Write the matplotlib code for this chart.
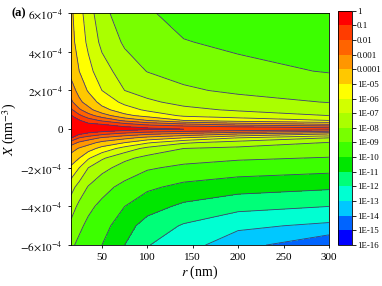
import numpy as np
import matplotlib
matplotlib.use("Agg")
import matplotlib.pyplot as plt
from matplotlib.colors import ListedColormap, BoundaryNorm

plt.rcParams['font.family'] = ['Liberation Serif', 'DejaVu Serif']
plt.rcParams['mathtext.fontset'] = 'stix'

# r (nm) grid and X (1e-4 nm^-3) grid
r_nm = [16, 25, 35, 50, 75, 100, 140, 200, 300]
x_e4 = [-6, -5, -4, -3, -2, -1.5, -1, -0.7, -0.45, -0.25, -0.1, 0,
        0.1, 0.25, 0.45, 0.7, 1.0, 1.4, 2, 3, 4.5, 6]

# log10 of the quantity, one row per X value (rows follow x_e4)
log_f = [
    [-8.85, -9.2, -9.5, -10.0, -11.0, -11.95, -12.6, -13.6, -14.9],
    [-8.24, -8.82, -9.21, -9.62, -10.6, -11.4, -12.1, -12.8, -13.2],
    [-7.54, -8.24, -8.79, -9.23, -10.0, -10.6, -11.2, -11.7, -12.0],
    [-6.63, -7.4, -8.07, -8.67, -9.29, -9.82, -10.27, -10.6, -10.85],
    [-5.17, -6.0, -7.0, -7.69, -8.4, -8.88, -9.22, -9.47, -9.67],
    [-4.47, -5.0, -5.88, -6.86, -7.78, -8.29, -8.63, -8.87, -9.06],
    [-3.57, -4.09, -4.57, -5.33, -6.4, -7.29, -8.0, -8.2, -8.42],
    [-2.5, -3.17, -3.6, -4.29, -5.0, -5.88, -6.86, -7.44, -8.04],
    [-0.96, -2.0, -2.5, -3.1, -3.71, -4.33, -5.0, -6.0, -7.0],
    [-0.58, -0.87, -1.23, -1.77, -2.38, -2.82, -3.27, -4.0, -5.0],
    [-0.29, -0.47, -0.62, -0.8, -1.17, -1.54, -1.83, -2.22, -2.83],
    [-0.1, -0.2, -0.3, -0.4, -0.6, -0.8, -1.0, -1.2, -1.5],
    [-0.22, -0.36, -0.5, -0.64, -0.87, -1.14, -1.46, -1.82, -2.22],
    [-0.4, -0.6, -0.8, -1.0, -1.67, -2.25, -2.8, -3.43, -4.0],
    [-0.64, -0.92, -1.5, -2.17, -3.23, -4.0, -5.0, -5.47, -6.0],
    [-0.94, -1.8, -2.6, -3.5, -4.75, -5.33, -6.16, -6.46, -7.0],
    [-1.83, -2.83, -3.67, -4.67, -5.56, -6.17, -6.76, -7.13, -7.46],
    [-2.78, -3.78, -4.43, -5.33, -6.25, -6.83, -7.27, -7.63, -8.04],
    [-3.56, -4.33, -5.1, -6.0, -7.0, -7.36, -7.85, -8.18, -8.48],
    [-4.3, -5.0, -5.7, -6.55, -7.5, -8.03, -8.35, -8.76, -9.05],
    [-4.65, -5.45, -6.2, -7.25, -8.14, -8.46, -8.96, -9.17, -9.27],
    [-4.8, -5.65, -6.5, -7.7, -8.55, -8.9, -9.3, -9.4, -9.5],
]

levels = list(range(-16, 1))
cbar_labels = ['1E-16', '1E-15', '1E-14', '1E-13', '1E-12', '1E-11', '1E-10',
               '1E-09', '1E-08', '1E-07', '1E-06', '1E-05', '0.0001',
               '0.001', '0.01', '0.1', '1']
band_colors = ['#0000ff', '#0064ff', '#00c8ff', '#00ffd2', '#00ff78',
               '#00e600', '#3cff00', '#78ff00', '#aaff00', '#d2ff00',
               '#ffff00', '#ffc800', '#ff9600', '#ff6400', '#ff3c00',
               '#ff0000']

R, XX = np.meshgrid(r_nm, np.array(x_e4) * 1e-4)
Z = np.array(log_f)

fig = plt.figure(figsize=(3.82, 2.86), dpi=100)
ax = fig.add_axes([0.186, 0.143, 0.675, 0.811])
cax = fig.add_axes([0.885, 0.143, 0.037, 0.82])

cmap = ListedColormap(band_colors)
norm = BoundaryNorm(levels, cmap.N)
cf = ax.contourf(R, XX, Z, levels=levels, cmap=cmap, norm=norm)
ax.contour(R, XX, Z, levels=levels, colors='#3c3c78', linewidths=0.6,
           linestyles='solid')

ax.set_xlim(16, 300)
ax.set_ylim(-6e-4, 6e-4)
ax.set_xticks([50, 100, 150, 200, 250, 300])
ax.set_yticks([-6e-4, -4e-4, -2e-4, 0, 2e-4, 4e-4, 6e-4])
ax.set_yticklabels([r'$-6{\times}10^{-4}$', r'$-4{\times}10^{-4}$', r'$-2{\times}10^{-4}$',
                    '0', r'$2{\times}10^{-4}$', r'$4{\times}10^{-4}$', r'$6{\times}10^{-4}$'])
ax.tick_params(labelsize=8, length=2.5, width=0.6, direction='out')
ax.set_xlabel(r'$r$ (nm)', fontsize=10, labelpad=1)
ax.set_ylabel(r'$X$ (nm$^{-3}$)', fontsize=10, labelpad=1)
for s in ax.spines.values():
    s.set_linewidth(0.6)

cb = fig.colorbar(cf, cax=cax, ticks=levels)
cb.ax.set_yticklabels(cbar_labels)
cb.ax.tick_params(labelsize=6.3, length=3, width=0.6, pad=0.5)
cb.outline.set_linewidth(0.6)

fig.text(0.03, 0.955, '(a)', fontsize=9, fontweight='bold', va='center')

fig.savefig('out.png', dpi=100)
